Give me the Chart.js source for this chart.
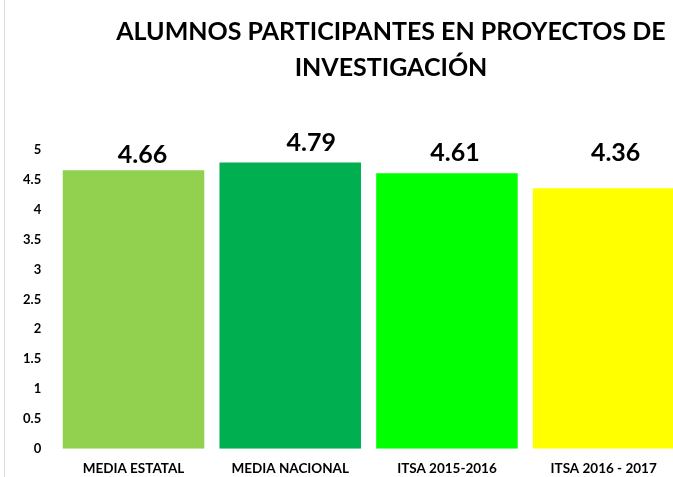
<!DOCTYPE html>
<html>
<head>
<meta charset="utf-8">
<script src="https://cdn.jsdelivr.net/npm/chart.js@4/dist/chart.umd.min.js"></script>
<style>
  html, body { margin: 0; padding: 0; background: #fff; overflow: hidden; }
  #grafico { position: absolute; left: 0; top: 0; }
  #edge { position: absolute; left: 4px; top: 0; width: 1px; height: 477px; background: #d9d9d9; }
</style>
</head>
<body>
<canvas id="grafico" width="682" height="477"></canvas>
<div id="edge"></div>
<script>
const categorias = ["MEDIA ESTATAL", "MEDIA NACIONAL", "ITSA 2015-2016", "ITSA 2016 - 2017"];
const valores = [4.66, 4.79, 4.61, 4.36];
const cores = ["#92D050", "#00B050", "#00FF00", "#FFFF00"];
const tituloLinhas = ["ALUMNOS PARTICIPANTES EN PROYECTOS DE", "INVESTIGACIÓN"];

// deslocamento dos rótulos (no original foram arrastados à mão)
const rotuloDx = [9, 21, 8, 12];
const rotuloGap = [7, 12, 12, 27];

const FONTE = "Lato, 'Liberation Sans', sans-serif";

// rótulos de valor em cima das barras
const rotulos = {
  id: "rotulos",
  afterDatasetsDraw(chart) {
    const ctx = chart.ctx;
    const meta = chart.getDatasetMeta(0);
    ctx.save();
    ctx.font = "bold 25px " + FONTE;
    ctx.fillStyle = "#000";
    ctx.textAlign = "center";
    ctx.textBaseline = "alphabetic";
    meta.data.forEach((bar, i) => {
      ctx.fillText(valores[i].toFixed(2), bar.x + rotuloDx[i], bar.y - rotuloGap[i]);
    });
    ctx.restore();
  }
};

// título desenhado à mão (centro deslocado como no original)
const titulo = {
  id: "titulo",
  afterDraw(chart) {
    const ctx = chart.ctx;
    ctx.save();
    ctx.font = "bold 25px " + FONTE;
    ctx.fillStyle = "#000";
    ctx.textAlign = "center";
    ctx.textBaseline = "middle";
    tituloLinhas.forEach((linha, i) => {
      ctx.fillText(linha, 391, 32 + i * 36);
    });
    ctx.restore();
  }
};

new Chart(document.getElementById("grafico").getContext("2d"), {
  type: "bar",
  data: {
    labels: categorias,
    datasets: [{
      data: valores,
      backgroundColor: cores,
      borderWidth: 0,
      barPercentage: 0.903,
      categoryPercentage: 1.0
    }]
  },
  options: {
    responsive: false,
    animation: false,
    layout: { padding: { top: 150, left: 9, right: 0, bottom: -12 } },
    plugins: {
      legend: { display: false },
      title: { display: false },
      tooltip: { enabled: false }
    },
    scales: {
      x: {
        grid: { display: false, drawTicks: false },
        border: { display: false },
        ticks: {
          color: "#000",
          font: { family: FONTE, size: 13.5, weight: "bold" },
          padding: 12,
          maxRotation: 0
        }
      },
      y: {
        min: 0,
        max: 5,
        grid: { display: false, drawTicks: false },
        border: { display: false },
        ticks: {
          stepSize: 0.5,
          color: "#000",
          font: { family: FONTE, size: 13, weight: "bold" },
          padding: 14,
          callback: v => String(v)
        }
      }
    }
  },
  plugins: [rotulos, titulo]
});
</script>
</body>
</html>
